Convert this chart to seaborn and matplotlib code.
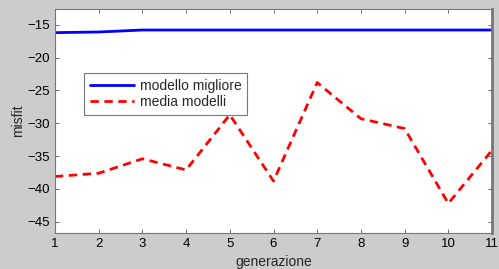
import matplotlib
matplotlib.use('Agg')
import matplotlib.pyplot as plt
import seaborn as sns
import pandas as pd

# dati
generazione = [1, 2, 3, 4, 5, 6, 7, 8, 9, 10, 11]
modello_migliore = [-16.2, -16.1, -15.8, -15.8, -15.8, -15.8, -15.8, -15.8, -15.8, -15.8, -15.8]
media_modelli = [-38.1, -37.6, -35.4, -37.1, -28.7, -38.8, -23.8, -29.3, -30.8, -42.2, -34.1]
y_ticks = [-15, -20, -25, -30, -35, -40, -45]

df = pd.DataFrame({'generazione': generazione,
                   'modello migliore': modello_migliore,
                   'media modelli': media_modelli})

sns.set_style('ticks')
plt.rcParams['font.family'] = ['Liberation Sans', 'DejaVu Sans']

fig = plt.figure(figsize=(4.99, 2.69), dpi=100, facecolor='#cccccc')
ax = fig.add_axes([55 / 499, 1 - 233 / 269, 437 / 499, 224 / 269])
ax.set_facecolor('white')

sns.lineplot(data=df, x='generazione', y='modello migliore', ax=ax,
             color='#0000ff', linewidth=2, label='modello migliore')
sns.lineplot(data=df, x='generazione', y='media modelli', ax=ax,
             color='#ff0000', linewidth=2, linestyle=(0, (3, 2)), label='media modelli')

ax.set_xlim(1, 11)
ax.set_ylim(-46.7, -12.6)
ax.set_xticks(generazione)
ax.set_yticks(y_ticks)
ax.tick_params(direction='in', length=3, width=0.6, labelsize=9.5, colors='#000000',
               top=True, right=True, color='#555555')
for s in ax.spines.values():
    s.set_color('#777777')
    s.set_linewidth(0.8)
ax.spines['right'].set_linewidth(2)

ax.set_xlabel('generazione', fontsize=10, labelpad=4)
ax.set_ylabel('misfit', fontsize=10, labelpad=2)

leg = ax.legend(loc='upper left', bbox_to_anchor=((84 - 55) / 437, (233 - 73) / 224),
                fontsize=10, frameon=True, fancybox=False, borderaxespad=0,
                handlelength=3.2, borderpad=0.4, labelspacing=0.2, handletextpad=0.4)
leg.get_frame().set_edgecolor('#555555')
leg.get_frame().set_linewidth(0.8)

fig.savefig('out.png', dpi=100, facecolor=fig.get_facecolor())
